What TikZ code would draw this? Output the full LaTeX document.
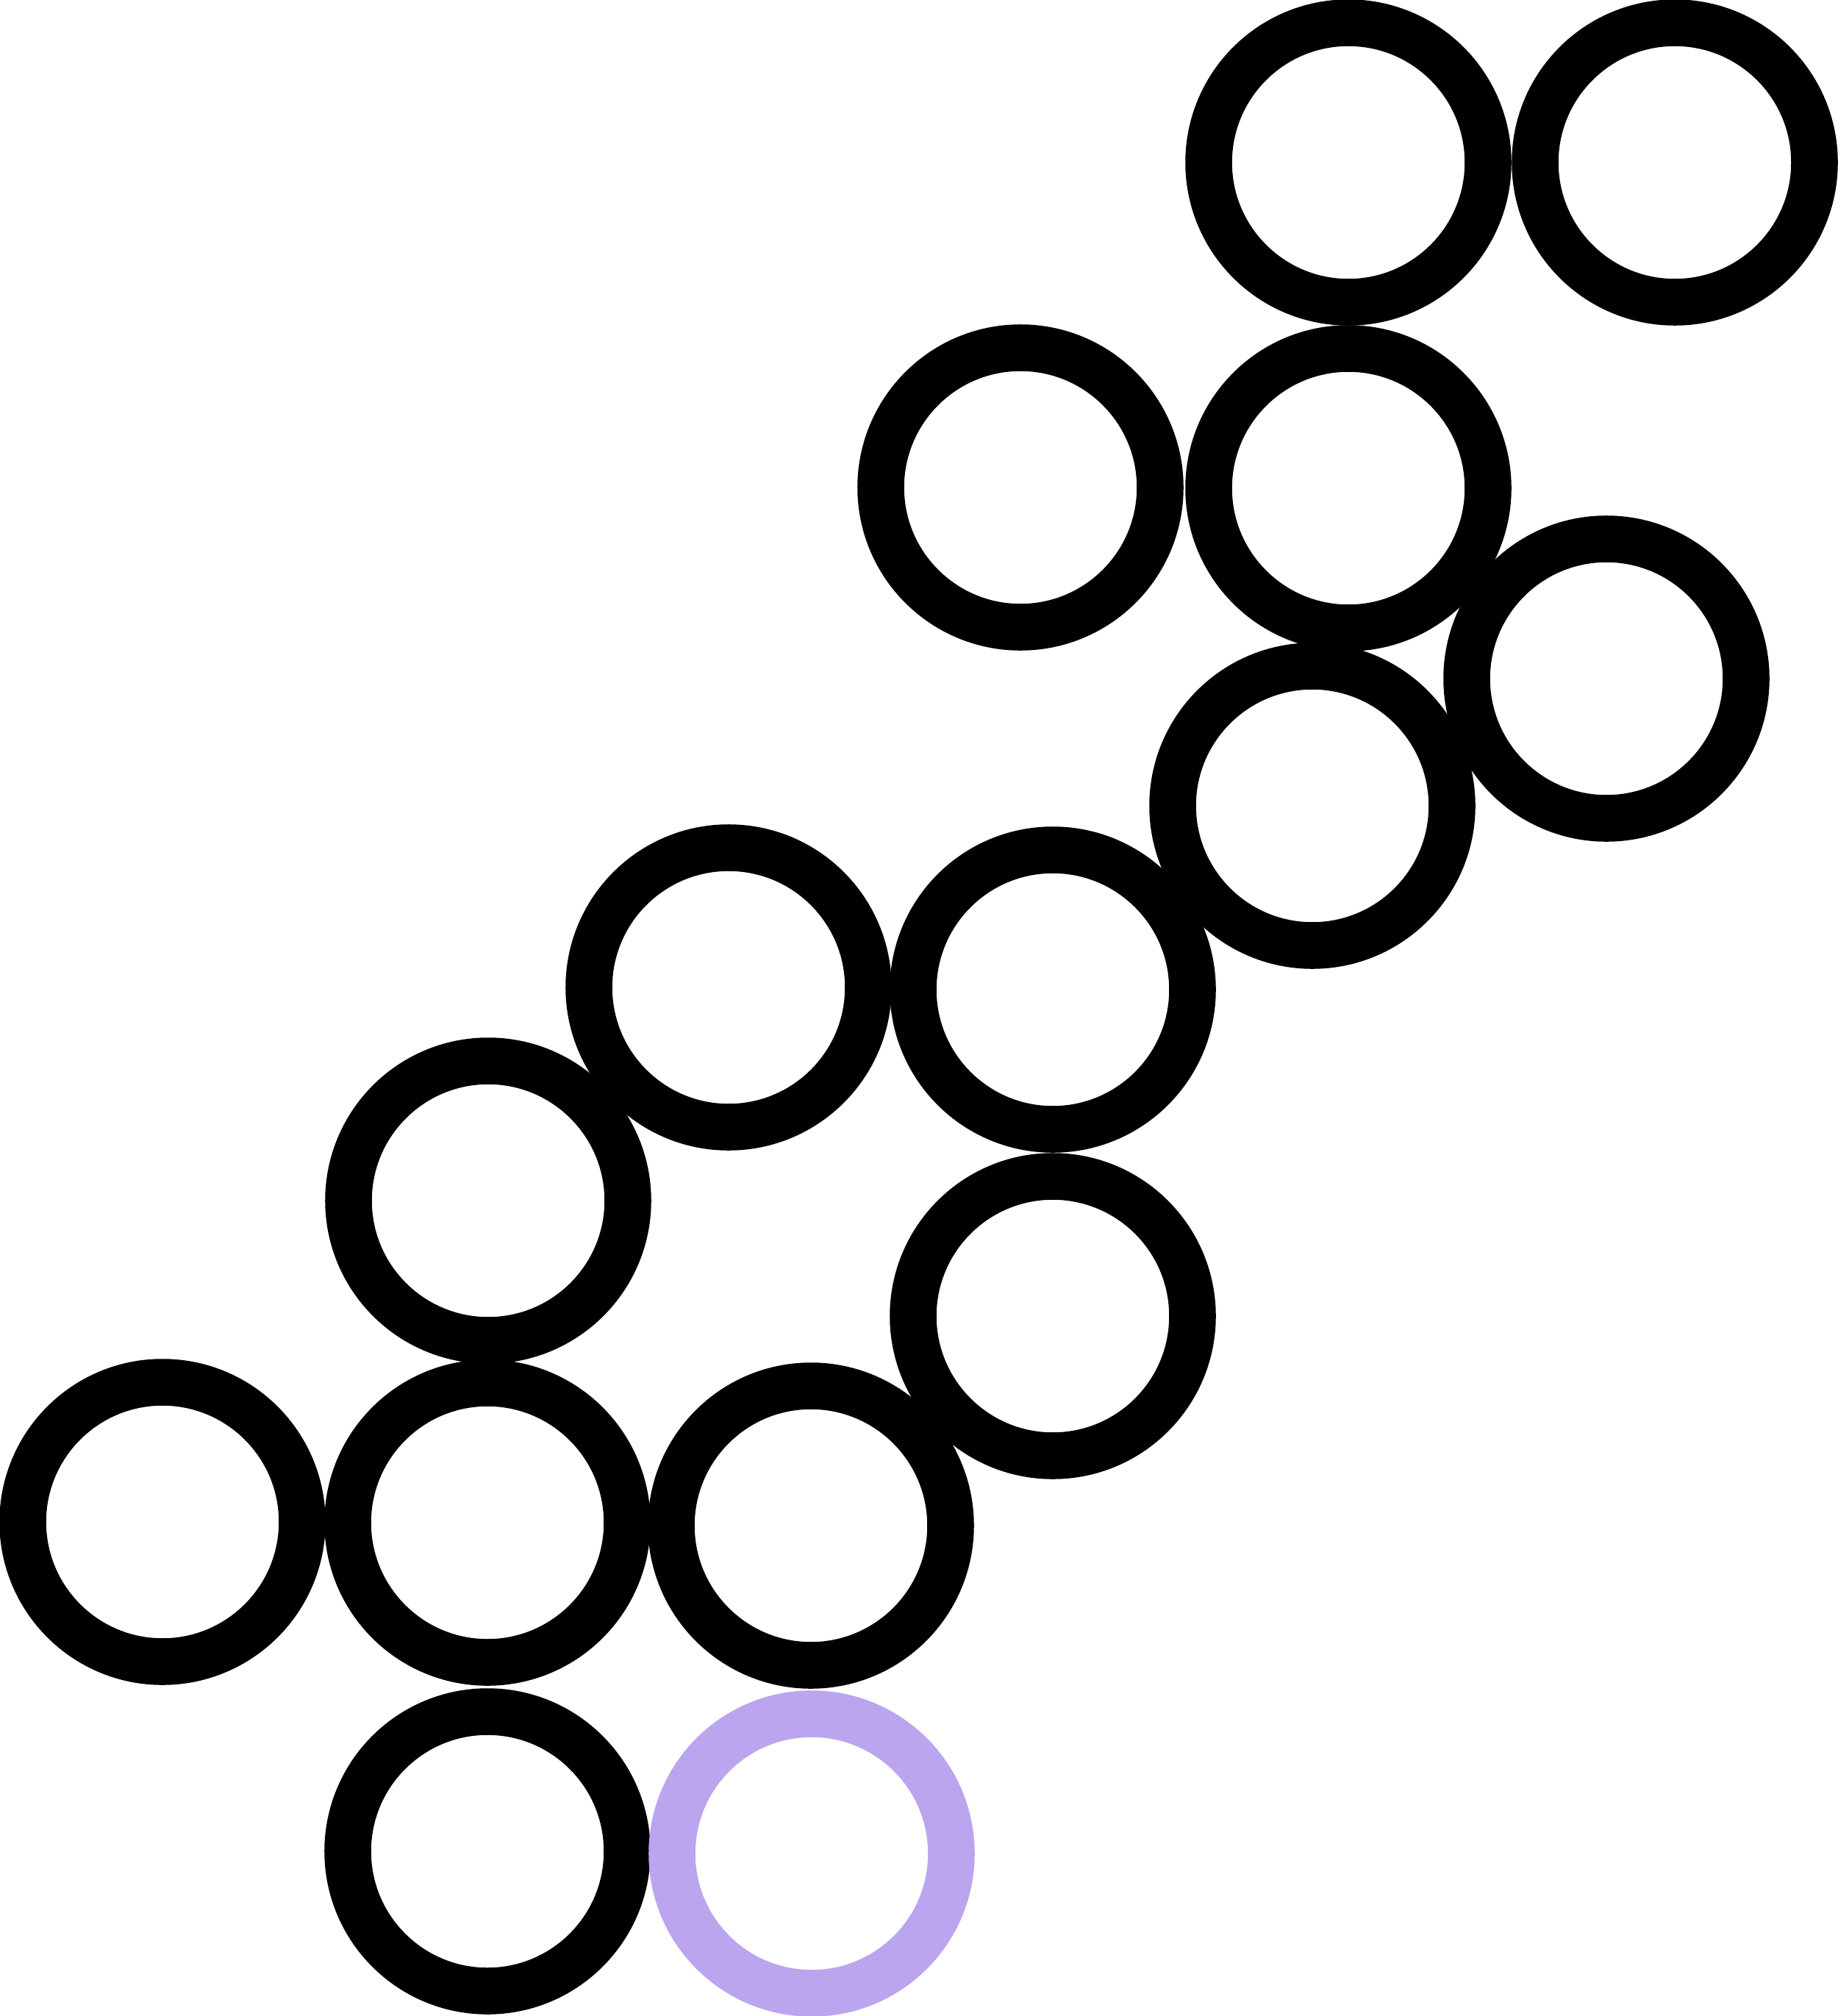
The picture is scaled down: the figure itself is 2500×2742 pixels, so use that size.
\documentclass[tikz,border=0pt]{standalone}
\usepackage{tikz}

\definecolor{lilac}{HTML}{BBA5EF}

\begin{document}
\begin{tikzpicture}[%
        x = 0.01cm, y = -0.01cm,
        ring/.style = {draw=black, line width=0.635cm}
    ]
      \useasboundingbox (0,0) rectangle (2500,2742);
      \draw[ring] (1834,221) circle [radius=190];
      \draw[ring] (2278,221) circle [radius=190];
      \draw[ring] (1388,663) circle [radius=190];
      \draw[ring] (1834,664) circle [radius=190];
      \draw[ring] (2185,923) circle [radius=190];
      \draw[ring] (1785,1096) circle [radius=190];
      \draw[ring] (991,1343) circle [radius=190];
      \draw[ring] (1432,1346) circle [radius=190];
      \draw[ring] (664,1633) circle [radius=190];
      \draw[ring] (1432,1790) circle [radius=190];
      \draw[ring] (221,2070) circle [radius=190];
      \draw[ring] (663,2071) circle [radius=190];
      \draw[ring] (1103,2075) circle [radius=190];
      \draw[ring] (663,2518) circle [radius=190];
      \draw[ring, draw=lilac] (1104,2521) circle [radius=190];
    \end{tikzpicture}
\end{document}
